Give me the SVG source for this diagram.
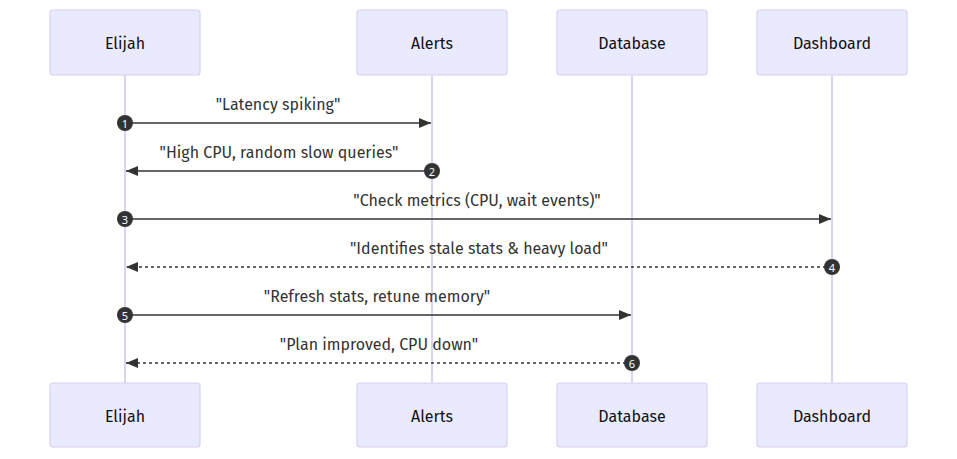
<svg xmlns="http://www.w3.org/2000/svg" width="957" height="459" viewBox="0 0 957 459">
<style>
.actor{fill:#eaeaff;stroke:#d8cff3;stroke-width:1.2}
.atext{font-family:"Fira Sans","Noto Sans","Open Sans",sans-serif;font-size:16px;fill:#111;text-anchor:middle;dominant-baseline:central}
.life{stroke:#d8cff3;stroke-width:1.8}
.msg{stroke:#333;stroke-width:1.6;fill:none}
.dot{stroke-dasharray:3,3}
.mtext{font-family:"Fira Sans","Noto Sans","Open Sans",sans-serif;font-size:16px;fill:#333;text-anchor:middle}
.seq{fill:#333}
.stext{font-family:"Noto Sans",sans-serif;font-size:11px;fill:#fff;text-anchor:middle;dominant-baseline:central}
</style>
<defs>
<marker id="ah" viewBox="0 0 12 10" markerWidth="12" markerHeight="10" refX="12" refY="5" orient="auto-start-reverse" markerUnits="userSpaceOnUse">
<path d="M0,0 L12,5 L0,10 z" fill="#333"/>
</marker>
</defs>
<rect width="957" height="459" fill="#fff"/>
<g id="lifelines">
<line class="life" x1="125" y1="75" x2="125" y2="383"/>
<line class="life" x1="432" y1="75" x2="432" y2="383"/>
<line class="life" x1="632" y1="75" x2="632" y2="383"/>
<line class="life" x1="832" y1="75" x2="832" y2="383"/>
</g>
<g id="elijah-top"><rect class="actor" x="50" y="10" width="150" height="65" rx="3"/><text class="atext" x="125" y="43">Elijah</text></g>
<g id="alerts-top"><rect class="actor" x="357" y="10" width="150" height="65" rx="3"/><text class="atext" x="432" y="43">Alerts</text></g>
<g id="database-top"><rect class="actor" x="557" y="10" width="150" height="65" rx="3"/><text class="atext" x="632" y="43">Database</text></g>
<g id="dashboard-top"><rect class="actor" x="757" y="10" width="150" height="65" rx="3"/><text class="atext" x="832" y="43">Dashboard</text></g>
<g id="elijah-bottom"><rect class="actor" x="50" y="383" width="150" height="64" rx="3"/><text class="atext" x="125" y="416">Elijah</text></g>
<g id="alerts-bottom"><rect class="actor" x="357" y="383" width="150" height="64" rx="3"/><text class="atext" x="432" y="416">Alerts</text></g>
<g id="database-bottom"><rect class="actor" x="557" y="383" width="150" height="64" rx="3"/><text class="atext" x="632" y="416">Database</text></g>
<g id="dashboard-bottom"><rect class="actor" x="757" y="383" width="150" height="64" rx="3"/><text class="atext" x="832" y="416">Dashboard</text></g>
<g id="connectors">
<line class="msg" x1="125" y1="123" x2="431" y2="123" marker-end="url(#ah)"/>
<text class="mtext" x="278" y="110">"Latency spiking"</text>
<line class="msg" x1="432" y1="171" x2="126" y2="171" marker-end="url(#ah)"/>
<text class="mtext" x="279" y="158">"High CPU, random slow queries"</text>
<line class="msg" x1="125" y1="219" x2="831" y2="219" marker-end="url(#ah)"/>
<text class="mtext" x="477" y="206">"Check metrics (CPU, wait events)"</text>
<line class="msg dot" x1="832" y1="267" x2="126" y2="267" marker-end="url(#ah)"/>
<text class="mtext" x="479" y="254">"Identifies stale stats &amp; heavy load"</text>
<line class="msg" x1="125" y1="315" x2="631" y2="315" marker-end="url(#ah)"/>
<text class="mtext" x="377" y="302">"Refresh stats, retune memory"</text>
<line class="msg dot" x1="632" y1="363" x2="126" y2="363" marker-end="url(#ah)"/>
<text class="mtext" x="379" y="350">"Plan improved, CPU down"</text>
</g>
<g id="sequence-numbers">
<circle class="seq" cx="125" cy="123" r="8"/><text class="stext" x="125" y="123">1</text>
<circle class="seq" cx="432" cy="171" r="8"/><text class="stext" x="432" y="171">2</text>
<circle class="seq" cx="125" cy="219" r="8"/><text class="stext" x="125" y="219">3</text>
<circle class="seq" cx="832" cy="267" r="8"/><text class="stext" x="832" y="267">4</text>
<circle class="seq" cx="125" cy="315" r="8"/><text class="stext" x="125" y="315">5</text>
<circle class="seq" cx="632" cy="363" r="8"/><text class="stext" x="632" y="363">6</text>
</g>
</svg>
